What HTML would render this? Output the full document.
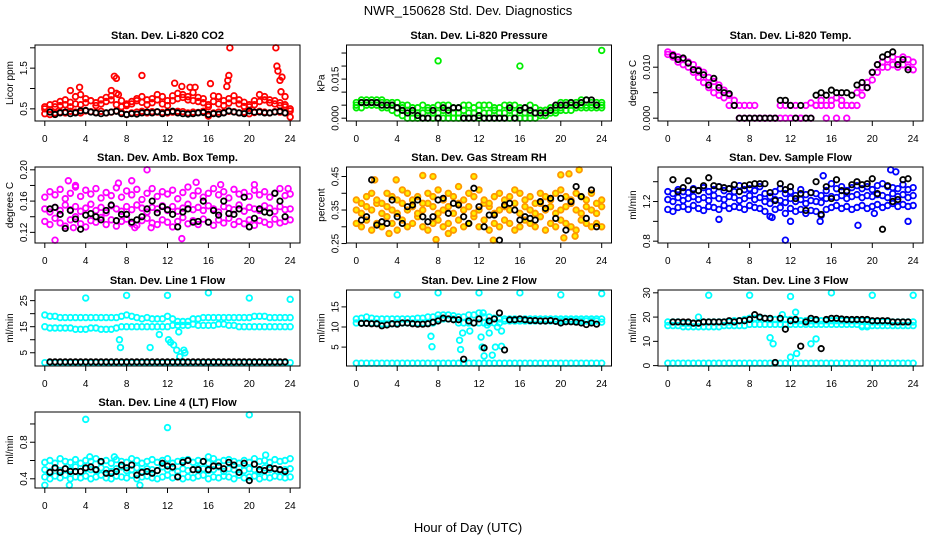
<!DOCTYPE html>
<html><head><meta charset="utf-8"><style>
html,body{margin:0;padding:0;background:#fff;}
svg{display:block;font-family:"Liberation Sans",sans-serif;}
</style></head><body>
<svg id="chart" width="936" height="540" viewBox="0 0 936 540" xmlns="http://www.w3.org/2000/svg">
<rect width="936" height="540" fill="#fff"/>
<text x="468" y="15" text-anchor="middle" font-size="13">NWR_150628 Std. Dev. Diagnostics</text>
<text x="468" y="532" text-anchor="middle" font-size="13">Hour of Day (UTC)</text>
</svg>
<script>
const titles=["Stan. Dev. Li-820 CO2","Stan. Dev. Li-820 Pressure","Stan. Dev. Li-820 Temp.","Stan. Dev. Amb. Box Temp.","Stan. Dev. Gas Stream RH","Stan. Dev. Sample Flow","Stan. Dev. Line 1 Flow","Stan. Dev. Line 2 Flow","Stan. Dev. Line 3 Flow","Stan. Dev. Line 4 (LT) Flow"];
const yTitles=["Licor ppm","kPa","degrees C","degrees C","percent","ml/min","ml/min","ml/min","ml/min","ml/min"];
const colors=["#ff0000","#00ee00","#ff00ff","#ff00ff","#ff9900","#0000ff","#00ffff","#00ffff","#00ffff","#00ffff"];
const yLims=[[0.27,2.0],[0,0.027],[0,0.0138],[0.11,0.20],[0.26,0.47],[0.81,1.52],[1,28],[1,18.5],[1,30],[0.33,1.1]];
const yTicks=[[0.5,1.0,1.5,2.0],[0,0.005,0.01,0.015,0.02,0.025],[0,0.005,0.01],[0.12,0.14,0.16,0.18,0.20],[0.25,0.30,0.35,0.40,0.45],[0.8,1.0,1.2,1.4],[5,10,15,20,25],[5,10,15],[0,10,20,30],[0.4,0.6,0.8,1.0]];
const yTickLabels=[["0.5","","1.5",""],["0.000","","","0.015","",""],["0.000","","0.010"],["0.12","","0.16","","0.20"],["0.25","","0.35","","0.45"],["0.8","","1.2",""],["5","","15","","25"],["5","10","15"],["0","10","20","30"],["0.4","","0.8",""]];
const xTicks=[0,4,8,12,16,20,24];

const band1=[
[0.38,0.36,0.40,0.42,0.40,0.44,0.42,0.40,0.45,0.43,0.41,0.44,0.40,0.42,0.45,0.41,0.36,0.40,0.42,0.44,0.40,0.43,0.42,0.41,0.40,0.42,0.44,0.43,0.40,0.42,0.41,0.44,0.32,0.40,0.42,0.41,0.44,0.43,0.40,0.42,0.38,0.41,0.44,0.42,0.40,0.43,0.42,0.40,0.30],
[0.004,0.004,0.005,0.005,0.005,0.004,0.004,0.003,0.002,0.001,0,0,0,0,0,0,0,0,0,0,0,0,0,0,0,0,0,0,0,0,0,0,0,0,0,0,0.001,0.001,0.002,0.002,0.003,0.003,0.003,0.004,0.004,0.004,0.004,0.004,0.004],
[0.013,0.0125,0.012,0.0115,0.011,0.0105,0.0095,0.009,0.008,0.0072,0.0065,0.0055,0.0045,0.0035,0.0025,0.0025,0.0025,0.0025,0,0,0,0,0.0025,0.0025,0.0025,0.0025,0,0.0025,0.003,0.0025,0.0035,0.0025,0.0035,0.004,0.0035,0.0025,0.0025,0.005,0.006,0.007,0.009,0.0105,0.011,0.0115,0.012,0.0115,0.012,0.0115,0.011],
[0.134,0.130,0.138,0.132,0.128,0.136,0.140,0.131,0.127,0.135,0.133,0.139,0.130,0.136,0.128,0.134,0.137,0.131,0.129,0.135,0.138,0.132,0.130,0.136,0.133,0.127,0.134,0.139,0.131,0.135,0.130,0.137,0.133,0.129,0.136,0.132,0.138,0.130,0.134,0.131,0.136,0.129,0.135,0.133,0.130,0.137,0.132,0.134,0.136],
[0.31,0.30,0.32,0.29,0.31,0.30,0.33,0.31,0.29,0.32,0.30,0.31,0.33,0.30,0.29,0.31,0.32,0.30,0.31,0.29,0.32,0.30,0.31,0.33,0.30,0.32,0.29,0.31,0.30,0.32,0.31,0.29,0.30,0.32,0.31,0.30,0.33,0.29,0.31,0.30,0.32,0.31,0.30,0.29,0.32,0.31,0.30,0.31,0.30],
[1.12,1.10,1.14,1.15,1.12,1.16,1.13,1.11,1.15,1.14,1.12,1.16,1.13,1.15,1.14,1.12,1.16,1.14,1.13,1.10,1.05,1.12,1.14,1.08,1.13,1.10,1.12,1.08,1.11,1.10,1.06,1.12,1.14,1.16,1.13,1.15,1.12,1.14,1.16,1.13,1.15,1.17,1.14,1.16,1.18,1.15,1.17,1.15,1.16],
[19.5,19,19,18.5,18.5,18.5,18.5,18.5,18.5,18.5,18.5,18.5,18.5,18.5,18.5,19,19.5,19,18.5,18,18.5,18,18,18,19,18,17,17,17,18,18,18.5,18.5,18.5,18.5,18.5,18.5,18.5,18.5,18.5,18.5,19,19,19,18.5,18.5,18.5,18.5,18.5],
[11,11,11,11,11,10.8,10.8,10.8,11,11,11,11,11,11,11,11,12,12,12,12,11,11,11,11,11,11,11,11,11,11.5,11.5,11.5,11.5,11.5,11.5,11.5,11.5,11.5,11.5,11.5,11.5,11.5,11.5,11.5,11.5,11.5,11.5,11.5,11.2],
[16.5,16.5,16.5,16,16,16,16,16,16,16,16,16.5,16.5,16.5,16.5,16.5,17,17,17,17,17,17,17,17,17,17,17,17,17,17,17,17,17,17,17,17,17,17,16.5,16.5,16.5,16.5,16.5,16.5,16.5,16.5,16.5,16.5,16.5],
[0.42,0.40,0.43,0.41,0.44,0.40,0.42,0.41,0.43,0.40,0.42,0.44,0.41,0.40,0.43,0.42,0.41,0.44,0.40,0.42,0.43,0.41,0.40,0.42,0.44,0.41,0.43,0.40,0.42,0.41,0.43,0.44,0.40,0.42,0.41,0.43,0.42,0.40,0.44,0.41,0.42,0.43,0.40,0.42,0.41,0.43,0.42,0.41,0.42]];
const band2=[
[0.50,0.48,0.55,0.58,0.60,0.55,0.62,0.60,0.65,0.70,0.58,0.62,0.68,0.72,0.60,0.55,0.58,0.62,0.70,0.66,0.60,0.75,0.72,0.62,0.58,0.70,0.75,0.78,0.72,0.70,0.68,0.65,0.55,0.68,0.62,0.58,0.64,0.70,0.62,0.56,0.55,0.60,0.68,0.72,0.65,0.62,0.58,0.55,0.45],
[0.005,0.006,0.006,0.006,0.006,0.006,0.005,0.005,0.004,0.004,0.003,0.002,0.002,0.002,0.003,0.002,0.002,0.003,0.002,0.002,0.002,0.003,0.002,0.002,0.003,0.002,0.002,0.003,0.002,0.002,0.003,0.002,0.003,0.002,0.002,0.002,0.002,0.003,0.003,0.003,0.004,0.005,0.005,0.005,0.005,0.005,0.005,0.005,0.005],
[0.0125,0.012,0.011,0.0105,0.010,0.009,0.008,0.007,0.006,0.005,0.0045,0.004,0.0025,0.0025,0,0,0,0,0,0,0,0,0,0,0,0,0,0,0,0.0025,0.0025,0,0.0025,0,0.0025,0,0.0025,0.0025,0.0045,0.006,0.0075,0.009,0.010,0.010,0.0105,0.010,0.0105,0.010,0.0095],
[0.150,0.146,0.152,0.148,0.155,0.149,0.153,0.147,0.151,0.156,0.148,0.152,0.145,0.154,0.150,0.147,0.153,0.149,0.155,0.151,0.146,0.152,0.150,0.154,0.148,0.153,0.147,0.151,0.156,0.149,0.152,0.148,0.154,0.150,0.146,0.153,0.151,0.149,0.155,0.147,0.152,0.150,0.148,0.154,0.151,0.147,0.153,0.149,0.150],
[0.35,0.34,0.36,0.35,0.37,0.34,0.36,0.35,0.34,0.37,0.35,0.36,0.34,0.35,0.37,0.36,0.34,0.35,0.36,0.34,0.37,0.35,0.36,0.34,0.35,0.37,0.36,0.34,0.35,0.36,0.35,0.37,0.34,0.36,0.35,0.34,0.37,0.35,0.36,0.34,0.35,0.36,0.37,0.35,0.34,0.36,0.35,0.34,0.36],
[1.22,1.20,1.24,1.21,1.23,1.25,1.22,1.24,1.21,1.26,1.23,1.22,1.25,1.24,1.21,1.23,1.26,1.22,1.24,1.20,1.18,1.22,1.21,1.19,1.23,1.20,1.22,1.18,1.21,1.20,1.19,1.23,1.25,1.24,1.26,1.23,1.25,1.27,1.24,1.26,1.25,1.27,1.26,1.24,1.28,1.25,1.27,1.24,1.26],
[15,14.5,14.5,14.5,14.5,14.5,14,14,14,14.5,14.5,14,14,14,14.5,15,15,15,15,15,15,15,15,15,15,15.5,15.5,15.5,15.5,16,15.5,15.5,15.5,15.5,16,16,15.5,15.5,15,15,15,15,15,15,15,15,15,15,15],
[12,12.2,12.5,12.2,12,12,12,12,12,12,12,12,12.2,12.2,12.5,12.5,13,13,13,12.8,12.5,12.5,13,13,13.5,12.5,12.5,12.2,12,12,12,12,12,12,12,12,12,12,12,12,12,12,12,12,12,12,12,12,12],
[18,18,18,17.5,17.5,17.5,17.5,18,18,18,18,18,18,18.5,18.5,19,19.5,19.5,19.5,19.5,19,19,19,19,19,18.5,18.5,18.5,18.5,18.5,18.5,18.5,18.5,18.5,18.5,18.5,18.5,18.5,18.5,18.5,18,18,18,18,18,18,18,18,18],
[0.50,0.48,0.52,0.49,0.51,0.50,0.53,0.48,0.51,0.50,0.49,0.52,0.50,0.48,0.51,0.53,0.49,0.50,0.52,0.48,0.51,0.50,0.49,0.53,0.50,0.52,0.48,0.51,0.49,0.50,0.52,0.51,0.49,0.50,0.53,0.48,0.51,0.50,0.52,0.49,0.51,0.50,0.48,0.52,0.50,0.51,0.49,0.50,0.51]];
const band3=[
[0.55,0.60,0.62,0.68,0.72,0.66,0.80,0.85,0.75,0.70,0.65,0.72,0.78,0.82,0.88,0.70,0.62,0.68,0.75,0.80,0.72,0.65,0.85,0.80,0.70,0.82,0.88,0.85,0.80,0.90,0.78,0.75,0.60,0.82,0.80,0.70,0.75,0.82,0.72,0.66,0.60,0.70,0.85,0.80,0.72,0.70,0.65,0.60,0.50],
[0.006,0.007,0.007,0.007,0.007,0.007,0.006,0.006,0.006,0.005,0.005,0.004,0.004,0.005,0.004,0.004,0.005,0.005,0.005,0.004,0.004,0.005,0.005,0.004,0.005,0.005,0.005,0.004,0.004,0.005,0.005,0.005,0.004,0.004,0.005,0.004,0.003,0.003,0.004,0.004,0.006,0.006,0.006,0.006,0.007,0.007,0.006,0.006,0.006],
[],
[0.165,0.172,0.168,0.175,0.163,0.170,0.178,0.166,0.174,0.169,0.176,0.164,0.171,0.167,0.177,0.165,0.173,0.168,0.175,0.162,0.170,0.176,0.166,0.172,0.169,0.174,0.163,0.171,0.178,0.167,0.173,0.165,0.170,0.176,0.168,0.172,0.164,0.175,0.169,0.171,0.166,0.174,0.168,0.172,0.165,0.170,0.176,0.167,0.169],
[0.38,0.37,0.39,0.40,0.38,0.37,0.40,0.39,0.38,0.41,0.40,0.38,0.39,0.37,0.40,0.39,0.41,0.38,0.40,0.39,0.42,0.38,0.40,0.39,0.41,0.38,0.37,0.39,0.40,0.38,0.39,0.41,0.40,0.38,0.39,0.37,0.40,0.39,0.38,0.40,0.41,0.39,0.38,0.40,0.39,0.38,0.40,0.37,0.38],
[1.30,1.28,1.32,1.30,1.29,1.33,1.31,1.34,1.30,1.32,1.35,1.31,1.33,1.30,1.36,1.32,1.33,1.31,1.35,1.28,1.25,1.30,1.33,1.28,1.30,1.26,1.32,1.27,1.29,1.28,1.26,1.31,1.38,1.33,1.35,1.31,1.34,1.36,1.33,1.35,1.32,1.36,1.38,1.35,1.34,1.33,1.37,1.32,1.34],
[1.2,1.2,1.2,1.2,1.2,1.2,1.2,1.2,1.2,1.2,1.2,1.2,1.2,1.2,1.2,1.2,1.2,1.2,1.2,1.2,1.2,1.2,1.2,1.2,1.2,1.2,1.2,1.2,1.2,1.2,1.2,1.2,1.2,1.2,1.2,1.2,1.2,1.2,1.2,1.2,1.2,1.2,1.2,1.2,1.2,1.2,1.2,1.2,1.2],
[1,1,1,1,1,1,1,1,1,1,1,1,1,1,1,1,1,1,1,1,1,1,1,1,1,1,1,1,1,1,1,1,1,1,1,1,1,1,1,1,1,1,1,1,1,1,1,1,1],
[1,1,1,1,1,1,1,1,1,1,1,1,1,1,1,1,1,1,1,1,1,1,1,1,1,1,1,1,1,1,1,1,1,1,1,1,1,1,1,1,1,1,1,1,1,1,1,1,1],
[0.58,0.60,0.57,0.62,0.59,0.58,0.61,0.57,0.60,0.59,0.62,0.58,0.60,0.57,0.61,0.59,0.58,0.62,0.60,0.57,0.59,0.61,0.58,0.60,0.62,0.57,0.59,0.60,0.61,0.58,0.60,0.59,0.57,0.62,0.58,0.60,0.61,0.59,0.57,0.60,0.58,0.62,0.59,0.60,0.58,0.61,0.59,0.60,0.62]];
const outX=[
[2.5,3.4,6.5,6.8,7.0,7.2,9.5,12.7,13.4,14.2,14.7,16.2,17.9,18.0,18.1,17.8,22.6,22.7,22.8,23.0,23.2,23.1,23.5],
[8,16,24],
[],
[1,2.3,3.0,10.0,13.4,14.8,17.2,20.5,23.8,8.5,7.2,2.8,8.8,10.4],
[6.5,7.5,11.5,20.0,20.8,21.8,1.8,3.9,13.4,7.8,20.3,21.4,3.2,9.0],
[11.5,18.6,15.2,21.8,22.3,5.0,10.2,20.2,23.5,12.0,14.9],
[4,8,12,16,20,24,7.3,7.4,10.3,11.2,12.1,12.3,12.6,12.9,13.2,13.6,13.7,13.1],
[4,8,12,16,20,24,7.3,7.4,10.1,10.2,10.4,11.1,12.2,12.3,12.5,12.8,13.0,13.3,13.6,13.8,14.2,14.2,12.4],
[4,8,12,16,20,24,3,10,10.3,12,12.5,12.6,14,14.5,11.2,19,19.5],
[4,12,20,0,2.4,9.3,21.6,4.4,6.8,16]];
const outY=[
[0.95,1.03,0.95,1.3,1.25,0.85,1.32,1.13,1.05,1.03,1.03,1.12,1.2,1.32,2.0,1.05,2.0,1.55,1.43,1.2,1.28,0.92,0.8],
[0.022,0.020,0.026],
[],
[0.110,0.186,0.180,0.200,0.112,0.184,0.181,0.181,0.176,0.186,0.183,0.126,0.126,0.126],
[0.453,0.45,0.45,0.455,0.458,0.47,0.44,0.44,0.26,0.262,0.267,0.272,0.28,0.28],
[0.81,0.96,1.46,1.52,1.5,1.02,1.04,1.08,1.0,1.0,1.0],
[26,27,27,28,26,25.5,10,7,7,12,10,9,8,6,3.5,6,5,13],
[18,18.5,18.5,18.5,18,18.3,7.7,5.1,6.7,4.4,8.5,9,7.5,5,2.8,10.5,8.5,3,5,10,5.2,9,13.5],
[29,29,28.5,30,29,29,20,11.5,9,3.5,22,5,9,11,21,16,16],
[1.05,0.96,1.1,0.33,0.33,0.33,0.66,0.64,0.64,0.64]];
const blackVals=[
[0.42,0.36,0.40,0.42,0.38,0.40,0.45,0.46,0.42,0.40,0.38,0.40,0.42,0.44,0.38,0.36,0.38,0.37,0.40,0.42,0.40,0.43,0.38,0.42,0.44,0.40,0.38,0.37,0.38,0.40,0.41,0.36,0.38,0.37,0.40,0.45,0.42,0.40,0.38,0.45,0.42,0.42,0.40,0.40,0.42,0.44,0.40],
[0.006,0.006,0.006,0.006,0.005,0.005,0.005,0.004,0.003,0.002,0.003,0.001,0,0,0.003,0,0.004,0.003,0.004,0.004,0,0,0,0.001,0,0,0,0,0,0.004,0,0.003,0.004,0.003,0.002,0.002,0.002,0.003,0.005,0.005,0.005,0.006,0.005,0.006,0.007,0.007,0.005],
[0.0123,0.0115,0.0118,0.0108,0.0095,0.0093,0.0085,0.0065,0.0078,0.006,0.005,0.0048,0.0025,0,0,0,0,0,0,0,0,0.0035,0.0035,0.0025,0,0.0025,0,0,0.0045,0.005,0.0045,0.0055,0.005,0.005,0.005,0.0045,0.0065,0.007,0.006,0.009,0.0105,0.012,0.0125,0.013,0.0105,0.0115,0.0095],
[0.150,0.152,0.143,0.125,0.148,0.137,0.124,0.142,0.144,0.140,0.136,0.148,0.155,0.135,0.143,0.143,0.133,0.136,0.140,0.150,0.160,0.145,0.153,0.149,0.143,0.127,0.146,0.150,0.133,0.134,0.160,0.133,0.148,0.142,0.160,0.144,0.143,0.150,0.165,0.127,0.138,0.150,0.146,0.145,0.170,0.160,0.140],
[0.32,0.33,0.44,0.305,0.315,0.31,0.38,0.33,0.31,0.36,0.365,0.38,0.33,0.315,0.33,0.38,0.385,0.34,0.37,0.365,0.33,0.31,0.415,0.36,0.30,0.335,0.335,0.26,0.365,0.37,0.35,0.32,0.33,0.325,0.32,0.375,0.355,0.385,0.325,0.385,0.29,0.375,0.42,0.39,0.325,0.41,0.30],
[1.42,1.30,1.34,1.41,1.32,1.31,1.36,1.44,1.36,1.35,1.34,1.33,1.37,1.30,1.36,1.37,1.38,1.38,1.38,1.29,1.21,1.38,1.32,1.35,1.23,1.28,1.11,1.29,1.40,1.07,1.35,1.23,1.42,1.31,1.30,1.37,1.40,1.37,1.38,1.43,1.28,0.92,1.36,1.20,1.22,1.42,1.43],
[1.5,1.5,1.5,1.5,1.5,1.5,1.5,1.5,1.5,1.5,1.5,1.5,1.5,1.5,1.5,1.5,1.5,1.5,1.5,1.5,1.5,1.5,1.5,1.5,1.5,1.5,1.5,1.5,1.5,1.5,1.5,1.5,1.5,1.5,1.5,1.5,1.5,1.5,1.5,1.5,1.5,1.5,1.5,1.5,1.5,1.5,1.5],
[10.9,10.9,10.8,10.8,10.3,10.5,10.8,10.7,11,11,10.8,10.7,10.7,10.8,11.2,11.5,12.2,12,11.8,11.8,2,11.5,11,12,4.8,11.5,12,13.5,4.3,11.8,11.8,12,11.8,11.6,11.6,11.5,11.5,11.6,11.4,11,11.3,11.3,11.2,11,10.6,11,10.7],
[18,18,18,18,17.5,17.5,18,18,18,18,18,18.5,18,18.5,18.5,19,21,20,19.5,19.5,1.3,19.5,15,18.5,19,8,18,19.5,19,7,19,19.5,19.5,19.2,19,19,19,19,19,18.5,18.5,18.5,18.5,18,18,18,18],
[0.47,0.52,0.47,0.51,0.48,0.48,0.48,0.52,0.53,0.50,0.59,0.46,0.46,0.48,0.55,0.52,0.55,0.44,0.47,0.48,0.46,0.49,0.57,0.54,0.53,0.42,0.58,0.60,0.50,0.50,0.59,0.50,0.54,0.54,0.51,0.58,0.55,0.47,0.57,0.38,0.56,0.50,0.49,0.52,0.51,0.50,0.48]];

const svg=document.getElementById('chart');
const NS='http://www.w3.org/2000/svg';
const boxLefts=[35,346.5,658], boxTops=[45,167,290,412], BW=265, BH=76;
function mk(tag,attrs,parent){const e=document.createElementNS(NS,tag);for(const k in attrs)e.setAttribute(k,attrs[k]);(parent||svg).appendChild(e);return e;}

titles.forEach((title,p)=>{
  const L=boxLefts[p%3], T=boxTops[Math.floor(p/3)];
  const g=mk('g',{});
  
  
  const xs=h=>L+(h+0.96)/25.92*BW;
  const [y0,y1]=yLims[p], pad=(y1-y0)*0.04;
  const ys=v=>T+BH-(v-(y0-pad))/((y1+pad)-(y0-pad))*BH;
  const t=mk('text',{x:L+BW/2,y:T-6,'text-anchor':'middle','font-size':11,'font-weight':'bold'},g);
  t.textContent=title;
  
  
  const col=colors[p];
  const fill=p===4?'#ffee00':'none';
  [band1[p],band2[p],band3[p]].forEach(arr=>{
    arr.forEach((v,i)=>{
      const c=mk('circle',{cx:xs(i*24/(arr.length-1)),cy:ys(v),r:2.8,fill:fill,stroke:col,'stroke-width':1.8},g);
      
      
    });
  });
  outX[p].forEach((h,i)=>{
    const c=mk('circle',{cx:xs(h),cy:ys(outY[p][i]),r:2.8,fill:fill,stroke:col,'stroke-width':1.8},g);
    
    
  });
  const bv=blackVals[p];
  bv.forEach((v,i)=>{
    const c=mk('circle',{cx:xs(0.5+i*23/(bv.length-1)),cy:ys(v),r:2.7,fill:'none',stroke:'#000','stroke-width':1.8},g);
    
    
  });
  const b=mk('rect',{x:L,y:T,width:BW,height:BH,fill:'none',stroke:'#000','stroke-width':1},g);
  
  
  mk('line',{x1:xs(0),x2:xs(24),y1:T+BH,y2:T+BH,stroke:'#000'},g);
  xTicks.forEach(h=>{
    mk('line',{x1:xs(h),x2:xs(h),y1:T+BH,y2:T+BH+5,stroke:'#000'},g);
    const l=mk('text',{x:xs(h),y:T+BH+21,'text-anchor':'middle','font-size':10},g);
    l.textContent=h;
    
    
  });
  yTicks[p].forEach((v,i)=>{
    const y=ys(v);
    mk('line',{x1:L-5,x2:L,y1:y,y2:y,stroke:'#000'},g);
    const s=yTickLabels[p][i];
    if(s){
      const l=mk('text',{x:L-8,y:y,'text-anchor':'middle','font-size':10,transform:`rotate(-90 ${L-8} ${y})`},g);
      l.textContent=s;
      
      
    }
  });
  const yt=mk('text',{x:L-22,y:T+BH/2,'text-anchor':'middle','font-size':10,transform:`rotate(-90 ${L-22} ${T+BH/2})`},g);
  yt.textContent=yTitles[p];
  
  
});
</script>
</body></html>
